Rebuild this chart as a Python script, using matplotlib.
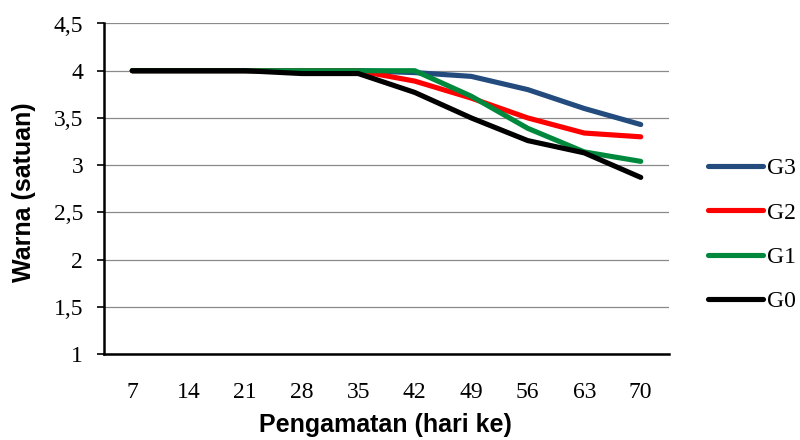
import matplotlib
matplotlib.use("Agg")
import matplotlib.pyplot as plt

days = ["7", "14", "21", "28", "35", "42", "49", "56", "63", "70"]
G3 = [4, 4, 4, 4, 4, 3.98, 3.94, 3.80, 3.60, 3.43]
G2 = [4, 4, 4, 4, 4, 3.89, 3.71, 3.50, 3.34, 3.30]
G1 = [4, 4, 4, 4, 4, 4.00, 3.73, 3.39, 3.14, 3.04]
G0 = [4, 4, 4, 3.97, 3.97, 3.77, 3.50, 3.26, 3.13, 2.87]
series = [("G3", G3, "#234B7E"), ("G2", G2, "#FF0000"),
          ("G1", G1, "#00893C"), ("G0", G0, "#000000")]
yticks = [1, 1.5, 2, 2.5, 3, 3.5, 4, 4.5]
ytick_labels = ["1", "1,5", "2", "2,5", "3", "3,5", "4", "4,5"]

serif = "Liberation Serif"
sans = "Liberation Sans"

fig = plt.figure(figsize=(8, 4.4), dpi=100)
ax = fig.add_axes([104/800, 1-354/440, (669-104)/800, (354-23.5)/440])

xs = list(range(len(days)))
for name, vals, col in series:
    ax.plot(xs, vals, color=col, lw=3.7, solid_capstyle="round",
            solid_joinstyle="round", label=name, zorder=3)

ax.set_xlim(-0.5, len(days) - 0.5)
ax.set_ylim(1, 4.5)
ax.set_xticks(xs)
ax.set_xticklabels(days, fontfamily=serif, fontsize=17)
ax.set_yticks(yticks)
ax.set_yticklabels(ytick_labels, fontfamily=serif, fontsize=17)
ax.tick_params(axis="x", length=0, pad=20)
ax.tick_params(axis="y", length=5, width=1.2, pad=10, direction="out")
ax.grid(axis="y", color="#8A8A8A", lw=0.9, zorder=1)
ax.set_axisbelow(True)
for s in ["top", "right"]:
    ax.spines[s].set_visible(False)
for s in ["left", "bottom"]:
    ax.spines[s].set_linewidth(1.8)
    ax.spines[s].set_color("black")

fig.text(385/800, 1-432/440, "Pengamatan (hari ke)", fontfamily=sans,
         fontweight="bold", fontsize=18, ha="center", va="baseline")
fig.text(24/800, 1-192.5/440, "Warna (satuan)", fontfamily=sans,
         fontweight="bold", fontsize=18, ha="center", va="center", rotation=90)

leg = fig.legend(loc="center left", bbox_to_anchor=(708/800, 1-235/440),
                 frameon=False, borderpad=0, borderaxespad=0,
                 handlelength=2.33, handletextpad=0.17, labelspacing=0.97,
                 prop={"family": serif, "size": 17})

fig.savefig("out.png", dpi=100)
